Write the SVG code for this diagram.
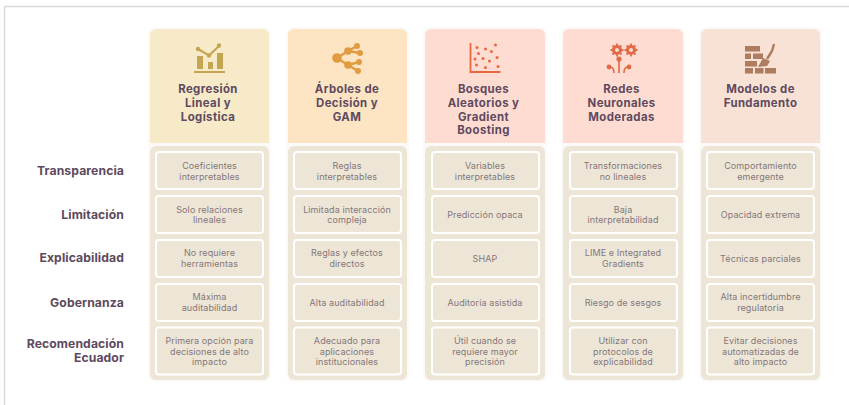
<svg xmlns="http://www.w3.org/2000/svg" width="849" height="405" viewBox="0 0 849 405">
<style>
text{font-family:Inter,"Noto Sans","Liberation Sans",sans-serif;text-anchor:middle}
.h{font-size:11.4px;font-weight:700;fill:#5d4a5e;letter-spacing:.4px}
.l{font-size:12.2px;font-weight:700;fill:#5d4a5e;text-anchor:end;letter-spacing:.1px}
.c{font-size:9px;fill:#85767a;letter-spacing:.1px}
.halo{fill:#fbfaf8}
.body{fill:#ede6d6}
.cell{fill:#ede6d6;stroke:#fff;stroke-width:2}
</style>
<rect width="849" height="405" fill="#fff"/>
<path d="M849 6.500H4.500V405" fill="none" stroke="#d9d9d9" stroke-width="1.500"/>

<g id="row-labels">
<text class="l" x="124" y="174.500">Transparencia</text>
<text class="l" x="124" y="218.500">Limitación</text>
<text class="l" x="124" y="262">Explicabilidad</text>
<text class="l" x="124" y="306.500">Gobernanza</text>
<text class="l" x="124" y="348">Recomendación</text>
<text class="l" x="124" y="362">Ecuador</text>
</g>

<g id="col-regresion">
<rect class="halo" x="148" y="27" width="123" height="355" rx="8"/>
<path d="M150 143V35a6 6 0 0 1 6-6H263a6 6 0 0 1 6 6V143Z" fill="#f6eac8"/>
<rect class="body" x="150" y="146" width="119" height="234" rx="6"/>
<g fill="#c4a652">
<rect x="194" y="71" width="31" height="2"/>
<rect x="197" y="56" width="6" height="13"/>
<rect x="208" y="62" width="5" height="7"/>
<rect x="217" y="53" width="6" height="16"/>
<path d="M198 49L209 55.500L219 46" fill="none" stroke="#c4a652" stroke-width="2.200"/>
<circle cx="198" cy="49" r="2.200"/><circle cx="209" cy="55.500" r="2.200"/><circle cx="219" cy="45.500" r="2.200"/>
</g>
<text class="h" x="208" y="93">Regresión</text>
<text class="h" x="208" y="106.500">Lineal y</text>
<text class="h" x="208" y="120.500">Logística</text>
<rect class="cell" x="156" y="152" width="107" height="37" rx="3"/>
<text class="c" x="209.500" y="169">Coeficientes</text><text class="c" x="209.500" y="179.500">interpretables</text>
<rect class="cell" x="156" y="196" width="107" height="37" rx="3"/>
<text class="c" x="209.500" y="212.500">Solo relaciones</text><text class="c" x="209.500" y="223">lineales</text>
<rect class="cell" x="156" y="240" width="107" height="37" rx="3"/>
<text class="c" x="209.500" y="256">No requiere</text><text class="c" x="209.500" y="266.500">herramientas</text>
<rect class="cell" x="156" y="284" width="107" height="37" rx="3"/>
<text class="c" x="209.500" y="300">Máxima</text><text class="c" x="209.500" y="310.500">auditabilidad</text>
<rect class="cell" x="156" y="327.500" width="107" height="47" rx="3"/>
<text class="c" x="209.500" y="344">Primera opción para</text><text class="c" x="209.500" y="354.500">decisiones de alto</text><text class="c" x="209.500" y="365">impacto</text>
</g>

<g id="col-arboles">
<rect class="halo" x="286" y="27" width="123" height="355" rx="8"/>
<path d="M288 143V35a6 6 0 0 1 6-6H401a6 6 0 0 1 6 6V143Z" fill="#fde4c3"/>
<rect class="body" x="288" y="146" width="119" height="234" rx="6"/>
<g fill="#e09c3f" stroke="#e09c3f" stroke-width="2.400">
<path d="M337 58L348 51L357 46M348 51L360 53M337 58L348 65L359 62M348 65L358 71" fill="none"/>
<circle cx="337" cy="58" r="3.600"/><circle cx="348" cy="51" r="2.600"/><circle cx="348" cy="65" r="2.600"/><circle cx="357" cy="46" r="1.800"/><circle cx="360" cy="53" r="1.800"/><circle cx="359" cy="62" r="1.800"/><circle cx="358" cy="71" r="1.800"/>
</g>
<text class="h" x="347" y="93">Árboles de</text>
<text class="h" x="347" y="106.500">Decisión y</text>
<text class="h" x="347" y="120.500">GAM</text>
<rect class="cell" x="294" y="152" width="107" height="37" rx="3"/>
<text class="c" x="347" y="169">Reglas</text><text class="c" x="347" y="179.500">interpretables</text>
<rect class="cell" x="294" y="196" width="107" height="37" rx="3"/>
<text class="c" x="347" y="212.500">Limitada interacción</text><text class="c" x="347" y="223">compleja</text>
<rect class="cell" x="294" y="240" width="107" height="37" rx="3"/>
<text class="c" x="347" y="256">Reglas y efectos</text><text class="c" x="347" y="266.500">directos</text>
<rect class="cell" x="294" y="284" width="107" height="37" rx="3"/>
<text class="c" x="347" y="305.500">Alta auditabilidad</text>
<rect class="cell" x="294" y="327.500" width="107" height="47" rx="3"/>
<text class="c" x="347" y="344">Adecuado para</text><text class="c" x="347" y="354.500">aplicaciones</text><text class="c" x="347" y="365">institucionales</text>
</g>

<g id="col-bosques">
<rect class="halo" x="423" y="27" width="124" height="355" rx="8"/>
<path d="M425 143V35a6 6 0 0 1 6-6H539a6 6 0 0 1 6 6V143Z" fill="#ffdcd1"/>
<rect class="body" x="425" y="146" width="120" height="234" rx="6"/>
<path d="M470.500 43V72H500.500" fill="none" stroke="#e8683f" stroke-width="1.800"/>
<g fill="#e8683f">
<circle cx="477" cy="47.500" r="1.500"/><circle cx="485.500" cy="49" r="1.500"/><circle cx="495.500" cy="45" r="1.500"/><circle cx="491.500" cy="51.500" r="1.500"/><circle cx="478.500" cy="53.500" r="1.500"/><circle cx="475" cy="59" r="1.500"/><circle cx="483" cy="58.500" r="1.500"/><circle cx="489.500" cy="61" r="1.500"/><circle cx="497" cy="57.500" r="1.500"/><circle cx="476.500" cy="65" r="1.500"/><circle cx="485.500" cy="67.500" r="1.500"/><circle cx="498" cy="66.500" r="1.500"/>
</g>
<text class="h" x="483.500" y="93">Bosques</text>
<text class="h" x="483.500" y="106.500">Aleatorios y</text>
<text class="h" x="483.500" y="120.500">Gradient</text>
<text class="h" x="483.500" y="134">Boosting</text>
<rect class="cell" x="432" y="152" width="107" height="37" rx="3"/>
<text class="c" x="485" y="169">Variables</text><text class="c" x="485" y="179.500">interpretables</text>
<rect class="cell" x="432" y="196" width="107" height="37" rx="3"/>
<text class="c" x="485" y="217.500">Predicción opaca</text>
<rect class="cell" x="432" y="240" width="107" height="37" rx="3"/>
<text class="c" x="485" y="261.500">SHAP</text>
<rect class="cell" x="432" y="284" width="107" height="37" rx="3"/>
<text class="c" x="485" y="305.500">Auditoría asistida</text>
<rect class="cell" x="432" y="327.500" width="107" height="47" rx="3"/>
<text class="c" x="485" y="344">Útil cuando se</text><text class="c" x="485" y="354.500">requiere mayor</text><text class="c" x="485" y="365">precisión</text>
</g>

<g id="col-redes">
<rect class="halo" x="561" y="27" width="124" height="355" rx="8"/>
<path d="M563 143V35a6 6 0 0 1 6-6H677a6 6 0 0 1 6 6V143Z" fill="#ffdcd1"/>
<rect class="body" x="563" y="146" width="120" height="234" rx="6"/>
<g fill="none" stroke="#e16a45">
<circle cx="617" cy="50" r="3.500" stroke-width="3"/>
<circle cx="631" cy="50" r="3.500" stroke-width="3"/>
<path d="M617 43.500V56.500M610.500 50H623.500M612.500 45.500L621.500 54.500M612.500 54.500L621.500 45.500M631 43.500V56.500M624.500 50H637.500M626.500 45.500L635.500 54.500M626.500 54.500L635.500 45.500" stroke-width="1.800" stroke-dasharray="2 9"/>
<path d="M619 60V73M610 67c3 0 4 2 4 6M628 67c-3 0-4 2-4 6" stroke-width="1.600"/>
</g>
<g fill="#e16a45"><circle cx="619" cy="59" r="2.600"/><circle cx="609" cy="67" r="2.400"/><circle cx="629" cy="67" r="2.400"/></g>
<text class="h" x="621.500" y="93">Redes</text>
<text class="h" x="621.500" y="106.500">Neuronales</text>
<text class="h" x="621.500" y="120.500">Moderadas</text>
<rect class="cell" x="570" y="152" width="107" height="37" rx="3"/>
<text class="c" x="623" y="169">Transformaciones</text><text class="c" x="623" y="179.500">no lineales</text>
<rect class="cell" x="570" y="196" width="107" height="37" rx="3"/>
<text class="c" x="623" y="212.500">Baja</text><text class="c" x="623" y="223">interpretabilidad</text>
<rect class="cell" x="570" y="240" width="107" height="37" rx="3"/>
<text class="c" x="623" y="256">LIME e Integrated</text><text class="c" x="623" y="266.500">Gradients</text>
<rect class="cell" x="570" y="284" width="107" height="37" rx="3"/>
<text class="c" x="623" y="305.500">Riesgo de sesgos</text>
<rect class="cell" x="570" y="327.500" width="107" height="47" rx="3"/>
<text class="c" x="623" y="344">Utilizar con</text><text class="c" x="623" y="354.500">protocolos de</text><text class="c" x="623" y="365">explicabilidad</text>
</g>

<g id="col-modelos">
<rect class="halo" x="699" y="27" width="123" height="355" rx="8"/>
<path d="M701 143V35a6 6 0 0 1 6-6H814a6 6 0 0 1 6 6V143Z" fill="#f8e1d5"/>
<rect class="body" x="701" y="146" width="119" height="234" rx="6"/>
<g fill="#b07c5f">
<rect x="745" y="46" width="15" height="5.500"/>
<rect x="745" y="53.500" width="6" height="5.500"/><rect x="753" y="53.500" width="10" height="5.500"/>
<rect x="745" y="61" width="12" height="5.500"/>
<rect x="745" y="68" width="8" height="5.500"/><rect x="755" y="68" width="8.500" height="5.500"/><rect x="765" y="68" width="11" height="5.500"/>
<path d="M758 67L763 58L770 61L767 66Z"/>
<path d="M767 59L772 51L774 44" fill="none" stroke="#b07c5f" stroke-width="2.400"/>
</g>
<text class="h" x="760.500" y="93">Modelos de</text>
<text class="h" x="760.500" y="106.500">Fundamento</text>
<rect class="cell" x="707" y="152" width="107" height="37" rx="3"/>
<text class="c" x="760.500" y="169">Comportamiento</text><text class="c" x="760.500" y="179.500">emergente</text>
<rect class="cell" x="707" y="196" width="107" height="37" rx="3"/>
<text class="c" x="760.500" y="217.500">Opacidad extrema</text>
<rect class="cell" x="707" y="240" width="107" height="37" rx="3"/>
<text class="c" x="760.500" y="261.500">Técnicas parciales</text>
<rect class="cell" x="707" y="284" width="107" height="37" rx="3"/>
<text class="c" x="760.500" y="300">Alta incertidumbre</text><text class="c" x="760.500" y="310.500">regulatoria</text>
<rect class="cell" x="707" y="327.500" width="107" height="47" rx="3"/>
<text class="c" x="760.500" y="344">Evitar decisiones</text><text class="c" x="760.500" y="354.500">automatizadas de</text><text class="c" x="760.500" y="365">alto impacto</text>
</g>
</svg>
